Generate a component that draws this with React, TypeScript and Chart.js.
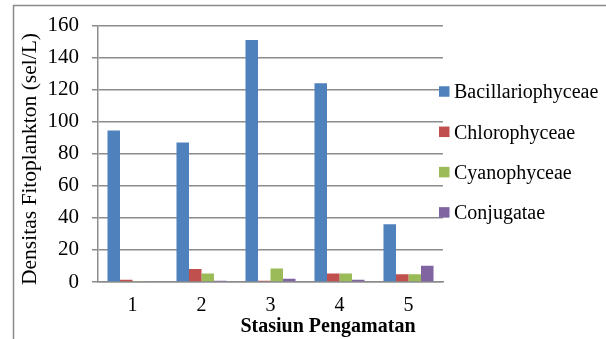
import React, { useEffect, useRef } from "react";
import { Chart, registerables } from "chart.js";

Chart.register(...registerables);

const stations = ["1", "2", "3", "4", "5"];
const bacillariophyceae = [94.5, 87, 151, 124, 36];
const chlorophyceae = [1.4, 8.1, 0.8, 5.3, 4.9];
const cyanophyceae = [0.6, 5.3, 8.5, 5.3, 4.9];
const conjugatae = [0, 0.8, 2, 1.4, 10.1];
const seriesNames = ["Bacillariophyceae", "Chlorophyceae", "Cyanophyceae", "Conjugatae"];
const seriesColors = ["#4f81bd", "#c0504d", "#9bbb59", "#8064a2"];
const yTitle = "Densitas Fitoplankton (sel/L)";
const xTitle = "Stasiun Pengamatan";

const W = 606;
const H = 339;
const SERIF = "'Liberation Serif', 'Times New Roman', serif";
const GRID = "#8c8c8c";

// Frame lines, axis titles and a legend at the right of the plot
const framePlugin = {
  id: "frameAndLegend",
  beforeDraw(chart: any) {
    const ctx = chart.ctx;
    ctx.save();
    ctx.fillStyle = "#ffffff";
    ctx.fillRect(0, 0, W, H);
    ctx.strokeStyle = "#8a8a8a";
    ctx.lineWidth = 1.5;
    ctx.beginPath();
    ctx.moveTo(13.5, H);
    ctx.lineTo(13.5, 5.5);
    ctx.lineTo(W, 5.5);
    ctx.stroke();
    ctx.restore();
  },
  afterDraw(chart: any) {
    const ctx = chart.ctx;
    const area = chart.chartArea;
    ctx.save();

    // axis titles
    ctx.fillStyle = "#000000";
    ctx.textAlign = "center";
    ctx.textBaseline = "middle";
    ctx.font = `bold 20px ${SERIF}`;
    ctx.fillText(xTitle, 328, 327);
    ctx.save();
    ctx.translate(30, 159);
    ctx.rotate(-Math.PI / 2);
    ctx.font = `21.5px ${SERIF}`;
    ctx.fillText(yTitle, 0, 0);
    ctx.restore();

    // legend
    const x0 = area.right - 4;
    const y0 = 91.5;
    const step = 40.3;
    const size = 10.5;
    ctx.font = `20px ${SERIF}`;
    ctx.textBaseline = "alphabetic";
    ctx.textAlign = "left";
    chart.data.datasets.forEach((ds: any, i: number) => {
      const cy = y0 + step * i;
      ctx.fillStyle = ds.backgroundColor;
      ctx.fillRect(x0, cy - size / 2, size, size);
      ctx.fillStyle = "#000000";
      ctx.fillText(ds.label, x0 + size + 4.5, cy + 6.8);
    });
    ctx.restore();
  },
};

export default function App() {
  const ref = useRef<HTMLCanvasElement | null>(null);

  useEffect(() => {
    if (!ref.current) return;
    const series = [bacillariophyceae, chlorophyceae, cyanophyceae, conjugatae];
    const chart = new Chart(ref.current, {
      type: "bar",
      data: {
        labels: stations,
        datasets: series.map((values, i) => ({
          label: seriesNames[i],
          data: values,
          backgroundColor: seriesColors[i],
          borderWidth: 0,
          categoryPercentage: 0.725,
          barPercentage: 1,
        })),
      },
      options: {
        responsive: false,
        animation: false,
        layout: { padding: { left: 17, top: 20, right: 163, bottom: 0 } },
        plugins: {
          legend: { display: false },
          tooltip: { enabled: false },
        },
        scales: {
          x: {
            grid: { display: false, drawTicks: false },
            border: { color: GRID, width: 1.5 },
            ticks: {
              color: "#000000",
              padding: 12,
              font: { family: SERIF, size: 20 },
            },
            afterFit(scale: any) {
              scale.height = 57;
            },
          },
          y: {
            min: 0,
            max: 160,
            grid: { color: GRID, lineWidth: 1.5, tickLength: 6, drawTicks: true },
            border: { color: GRID, width: 1.5 },
            ticks: {
              stepSize: 20,
              color: "#000000",
              padding: 13,
              font: { family: SERIF, size: 21 },
            },
            afterFit(scale: any) {
              scale.width = 81;
            },
          },
        },
      },
      plugins: [framePlugin],
    });
    return () => chart.destroy();
  }, []);

  return (
    <div style={{ position: "absolute", left: 0, top: 0, width: W, height: H, background: "#fff" }}>
      <canvas ref={ref} width={W} height={H} style={{ display: "block" }} />
    </div>
  );
}
